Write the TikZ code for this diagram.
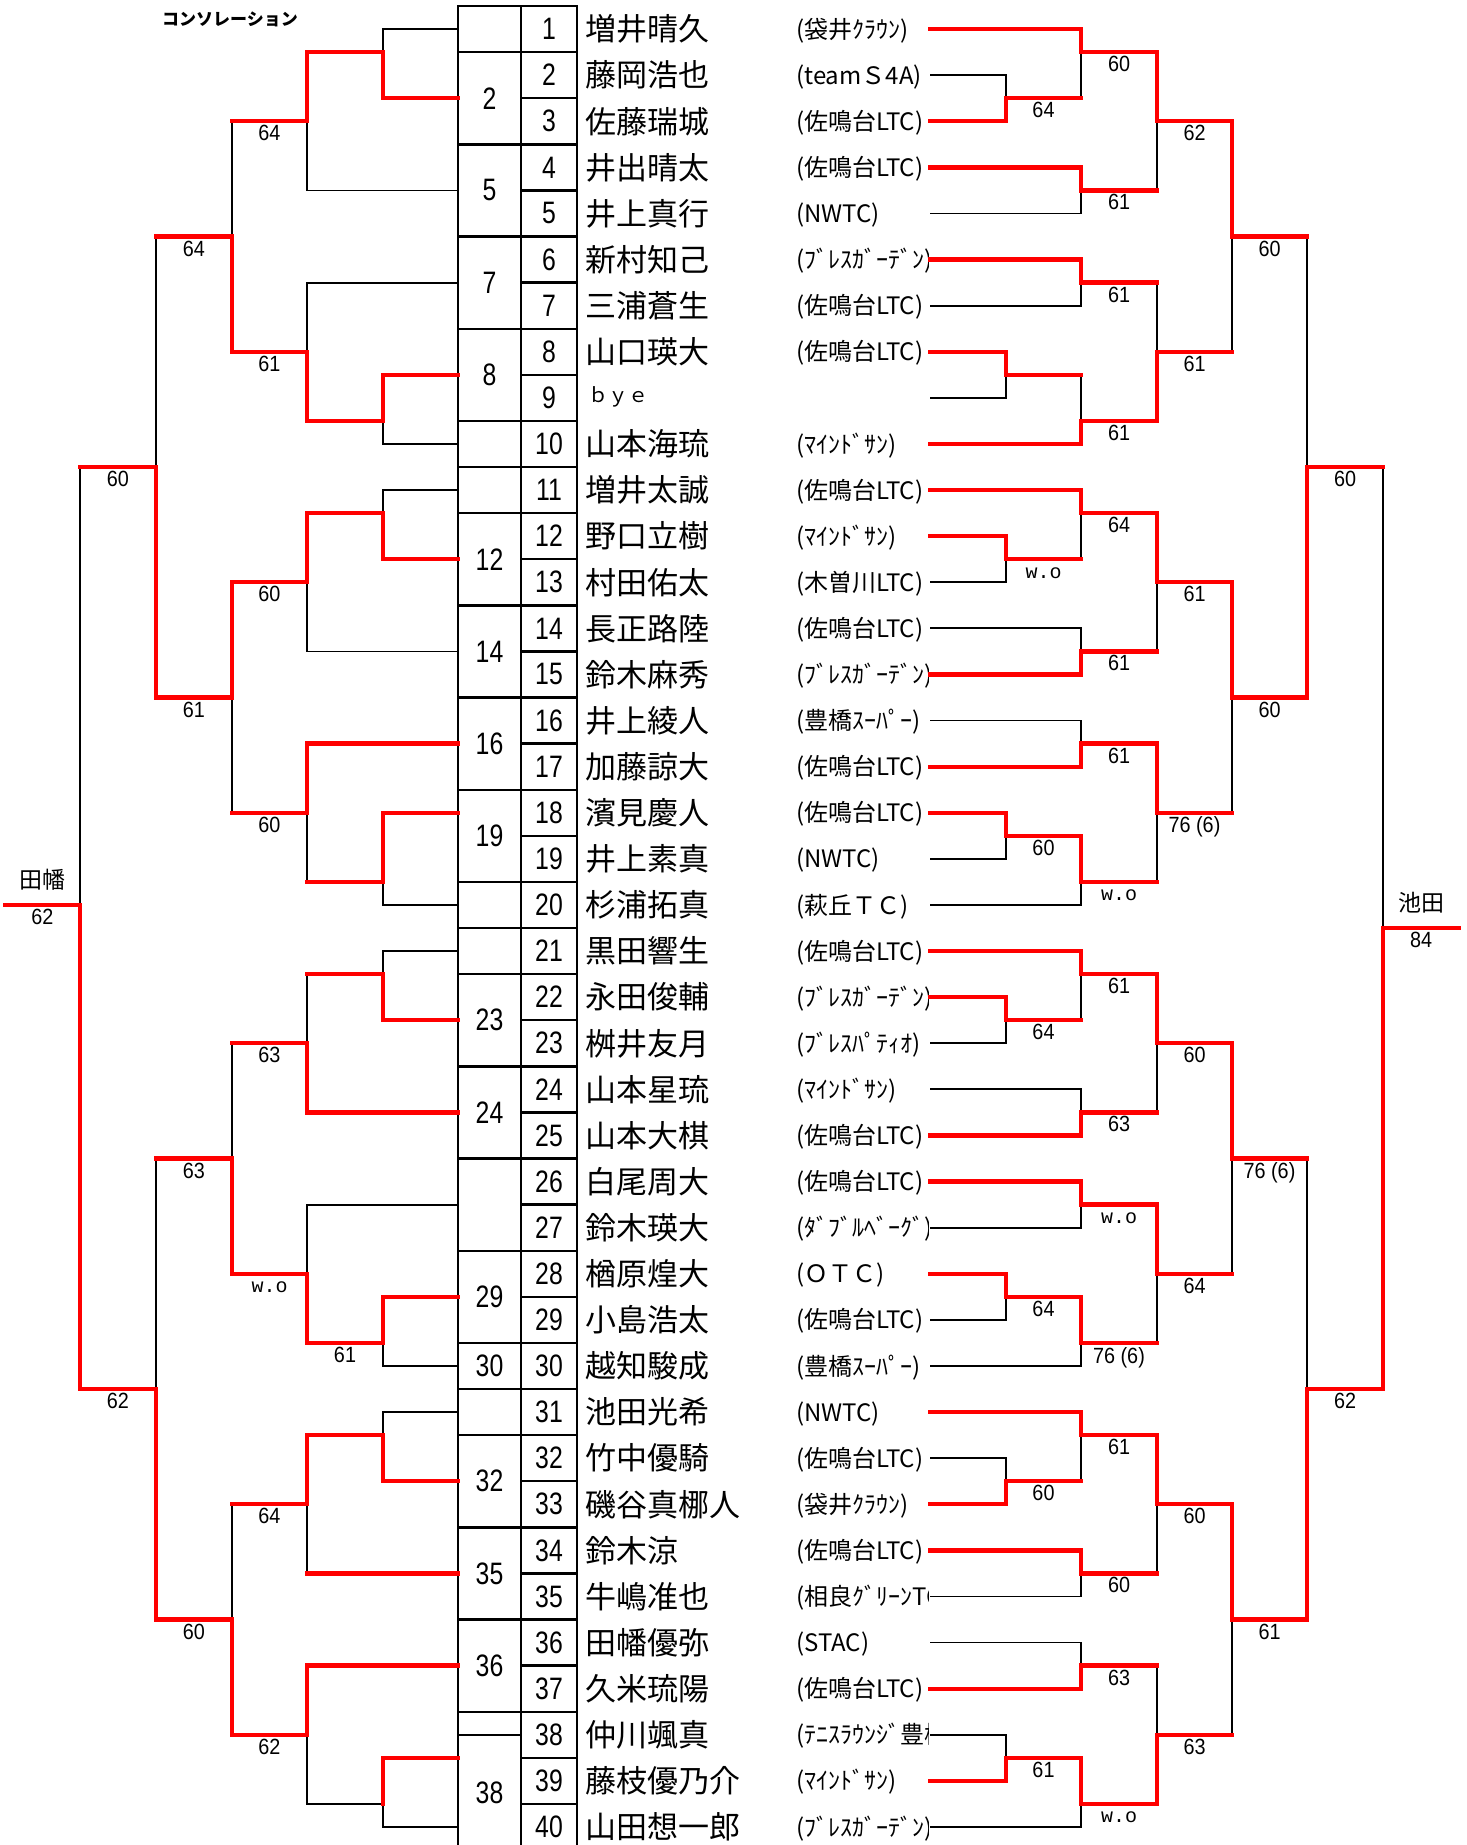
\documentclass[tikz,border=0pt]{standalone}
\usepackage{fontspec}
\setmainfont{Noto Sans CJK JP}
\newfontfamily\cjk{Noto Sans CJK JP}
\newfontfamily\numfont[FakeStretch=0.8]{Liberation Sans}
\newfontfamily\scfont[FakeStretch=0.9]{Liberation Sans}
\newfontfamily\wofont{Liberation Mono}
\begin{document}
\begin{tikzpicture}[x=1pt,y=1pt,
  bk/.style={line width=1.8pt, black, line join=miter},
  rd/.style={line width=4.3pt, red, line join=miter, line cap=rect},
  grid/.style={line width=2.4pt, black, line cap=rect},
  nm/.style={anchor=base west, inner sep=0pt, font=\cjk\fontsize{31}{31}\selectfont, yshift=-11.8pt},
  byefont/.style={anchor=base west, inner sep=0pt, font=\cjk\fontsize{20}{20}\selectfont, yshift=-5pt},
  club/.style={anchor=base west, inner sep=0pt, font=\cjk\fontsize{24}{24}\selectfont, yshift=-9.1pt},
  num/.style={anchor=center, inner sep=0pt, font=\numfont\fontsize{31}{31}\selectfont},
  sc/.style={anchor=north, inner sep=0pt, yshift=-4pt, font=\scfont\fontsize{22}{22}\selectfont},
  wo/.style={anchor=north, inner sep=0pt, yshift=-8pt, font=\wofont\fontsize{20}{20}\selectfont},
  fin/.style={anchor=base, inner sep=0pt, yshift=16.6pt, font=\cjk\fontsize{23}{23}\selectfont}
]
\useasboundingbox (0,0) rectangle (1467,-1845);
\clip (0,0) rectangle (1467,-1845);
\begin{scope}[shift={(0,-6)}, y=-46.1pt]
% title
\node[font=\cjk\bfseries\fontsize{17}{17}\selectfont, inner sep=0pt] (title) at (230,0.28) {コンソレーション};

% grid
\draw[grid] (458,0) -- (577,0);
\draw[grid] (458,0) -- (458,40.3);
\draw[grid] (521,0) -- (521,40.3);
\draw[grid] (577,0) -- (577,40.3);
\foreach \r in {1,...,39} \draw[grid] (521,\r) -- (577,\r);
\foreach \r in {1,3,5,7,9,10,11,13,15,17,19,20,21,23,25,27,29,30,31,33,35,37,37.5}
  \draw[grid] (458,\r) -- (521,\r);

% group labels
\foreach \r/\t [count=\k] in {2/2,4/5,6/7,8/8,12/12,14/14,16/16,18/19,22/23,24/24,28/29,29.5/30,32/32,34/35,36/36,38.75/38}
  \node[num] (g\k) at (489.5,\r) {\t};
% row numbers
\foreach \i in {1,...,40}
  \node[num] (k\i) at (549,\i-0.5) {\i};

% names
\foreach \i/\nm in {1/増井晴久,2/藤岡浩也,3/佐藤瑞城,4/井出晴太,5/井上真行,6/新村知己,7/三浦蒼生,8/山口瑛大,10/山本海琉,11/増井太誠,12/野口立樹,13/村田佑太,14/長正路陸,15/鈴木麻秀,16/井上綾人,17/加藤諒大,18/濱見慶人,19/井上素真,20/杉浦拓真,21/黒田響生,22/永田俊輔,23/桝井友月,24/山本星琉,25/山本大棋,26/白尾周大,27/鈴木瑛大,28/楢原煌大,29/小島浩太,30/越知駿成,31/池田光希,32/竹中優騎,33/磯谷真梛人,34/鈴木涼,35/牛嶋准也,36/田幡優弥,37/久米琉陽,38/仲川颯真,39/藤枝優乃介,40/山田想一郎}
  \node[nm] (n\i) at (585,\i-0.5) {\nm};
\node[byefont] (n9) at (588,8.5) {ｂｙｅ};

% clubs
\begin{scope}
\clip (790,0) rectangle (928,41);
\foreach \i/\cl in {1/{(袋井ｸﾗｳﾝ)},2/{(teamＳ4A)},3/{(佐鳴台LTC)},4/{(佐鳴台LTC)},5/{(NWTC)},6/{(ﾌﾞﾚｽｶﾞｰﾃﾞﾝ)},7/{(佐鳴台LTC)},8/{(佐鳴台LTC)},10/{(ﾏｲﾝﾄﾞｻﾝ)},11/{(佐鳴台LTC)},12/{(ﾏｲﾝﾄﾞｻﾝ)},13/{(木曽川LTC)},14/{(佐鳴台LTC)},15/{(ﾌﾞﾚｽｶﾞｰﾃﾞﾝ)},16/{(豊橋ｽｰﾊﾟｰ)},17/{(佐鳴台LTC)},18/{(佐鳴台LTC)},19/{(NWTC)},20/{(萩丘ＴＣ)},21/{(佐鳴台LTC)},22/{(ﾌﾞﾚｽｶﾞｰﾃﾞﾝ)},23/{(ﾌﾞﾚｽﾊﾟﾃｨｵ)},24/{(ﾏｲﾝﾄﾞｻﾝ)},25/{(佐鳴台LTC)},26/{(佐鳴台LTC)},27/{(ﾀﾞﾌﾞﾙﾍﾞｰｸﾞ)},28/{(ＯＴＣ)},29/{(佐鳴台LTC)},30/{(豊橋ｽｰﾊﾟｰ)},31/{(NWTC)},32/{(佐鳴台LTC)},33/{(袋井ｸﾗｳﾝ)},34/{(佐鳴台LTC)},35/{(相良ｸﾞﾘｰﾝTC)},36/{(STAC)},37/{(佐鳴台LTC)},38/{(ﾃﾆｽﾗｳﾝｼﾞ豊橋)},39/{(ﾏｲﾝﾄﾞｻﾝ)},40/{(ﾌﾞﾚｽｶﾞｰﾃﾞﾝ)}}
  \node[club] (c\i) at (796,\i-0.5) {\cl};
\end{scope}

% ---------- left bracket, black ----------
\draw[bk] (458,0.5) -| (383,1);
\draw[bk] (458,4) -| (307,2.5);
\draw[bk] (458,6) -| (307,7.5);
\draw[bk] (458,9.5) -| (383,9);
\draw[bk] (232,2.5) -- (232,5);
\draw[bk] (156,5) -- (156,10);
\draw[bk] (80,10) -- (80,19.5);
\draw[bk] (458,10.5) -| (383,11);
\draw[bk] (458,14) -| (307,12.5);
\draw[bk] (307,17.5) -- (307,19);
\draw[bk] (458,19.5) -| (383,19);
\draw[bk] (232,15) -- (232,17.5);
\draw[bk] (458,20.5) -| (383,21);
\draw[bk] (307,21) -- (307,22.5);
\draw[bk] (232,22.5) -- (232,25);
\draw[bk] (458,26) -| (307,27.5);
\draw[bk] (458,29.5) -| (383,29);
\draw[bk] (156,25) -- (156,30);
\draw[bk] (458,30.5) -| (383,31);
\draw[bk] (307,32.5) -- (307,34);
\draw[bk] (232,32.5) -- (232,35);
\draw[bk] (458,39.5) -| (383,39) -| (307,37.5);

% ---------- right bracket, black ----------
\draw[bk] (930,1.5) -| (1006,2);
\draw[bk] (1081,1) -- (1081,2);
\draw[bk] (930,4.5) -| (1081,4);
\draw[bk] (1157,2.5) -- (1157,4);
\draw[bk] (930,6.5) -| (1081,6);
\draw[bk] (1157,6) -- (1157,7.5);
\draw[bk] (930,8.5) -| (1006,8);
\draw[bk] (1081,8) -- (1081,9);
\draw[bk] (1232,5) -- (1232,7.5);
\draw[bk] (1307,5) -- (1307,10);
\draw[bk] (1081,11) -- (1081,12);
\draw[bk] (930,12.5) -| (1006,12);
\draw[bk] (930,13.5) -| (1081,14);
\draw[bk] (1157,12.5) -- (1157,14);
\draw[bk] (930,15.5) -| (1081,16);
\draw[bk] (930,18.5) -| (1006,18);
\draw[bk] (930,19.5) -| (1081,19);
\draw[bk] (1157,17.5) -- (1157,19);
\draw[bk] (1232,15) -- (1232,17.5);
\draw[bk] (1383,10) -- (1383,20);
\draw[bk] (1081,21) -- (1081,22);
\draw[bk] (930,22.5) -| (1006,22);
\draw[bk] (930,23.5) -| (1081,24);
\draw[bk] (1157,22.5) -- (1157,24);
\draw[bk] (1307,25) -- (1307,30);
\draw[bk] (930,26.5) -| (1081,26);
\draw[bk] (930,28.5) -| (1006,28);
\draw[bk] (930,29.5) -| (1081,29);
\draw[bk] (1157,27.5) -- (1157,29);
\draw[bk] (1232,25) -- (1232,27.5);
\draw[bk] (1081,31) -- (1081,32);
\draw[bk] (930,31.5) -| (1006,32);
\draw[bk] (930,34.5) -| (1081,34);
\draw[bk] (1157,32.5) -- (1157,34);
\draw[bk] (930,35.5) -| (1081,36);
\draw[bk] (1157,36) -- (1157,37.5);
\draw[bk] (930,37.5) -| (1006,38);
\draw[bk] (930,39.5) -| (1081,39);
\draw[bk] (1232,35) -- (1232,37.5);

% ---------- left bracket, red ----------
\draw[rd] (458,2) -| (383,1) -| (307,2.5) -- (232,2.5);
\draw[rd] (458,8) -| (383,9) -| (307,7.5) -| (232,5) -- (156,5);
\draw[rd] (458,12) -| (383,11) -| (307,12.5) -| (232,15) -| (156,10) -- (80,10);
\draw[rd] (458,16) -| (307,17.5) -- (232,17.5);
\draw[rd] (458,17.5) -| (383,19) -- (307,19);
\draw[rd] (458,22) -| (383,21) -- (307,21);
\draw[rd] (458,24) -| (307,22.5) -- (232,22.5);
\draw[rd] (458,28) -| (383,29) -| (307,27.5) -| (232,25) -- (156,25);
\draw[rd] (458,32) -| (383,31) -| (307,32.5) -- (232,32.5);
\draw[rd] (458,34) -- (307,34);
\draw[rd] (458,36) -| (307,37.5) -| (232,35) -| (156,30) -| (80,19.5) -- (5,19.5);
\draw[rd] (458,38) -| (383,39);

% ---------- right bracket, red ----------
\draw[rd] (930,0.5) -| (1081,1) -| (1157,2.5) -| (1232,5) -- (1307,5);
\draw[rd] (930,2.5) -| (1006,2) -- (1081,2);
\draw[rd] (930,3.5) -| (1081,4) -- (1157,4);
\draw[rd] (930,5.5) -| (1081,6) -- (1157,6);
\draw[rd] (930,7.5) -| (1006,8) -- (1081,8);
\draw[rd] (930,9.5) -| (1081,9) -| (1157,7.5) -- (1232,7.5);
\draw[rd] (930,10.5) -| (1081,11) -| (1157,12.5) -| (1232,15) -| (1307,10) -- (1383,10);
\draw[rd] (930,11.5) -| (1006,12) -- (1081,12);
\draw[rd] (930,14.5) -| (1081,14) -- (1157,14);
\draw[rd] (930,16.5) -| (1081,16) -| (1157,17.5) -- (1232,17.5);
\draw[rd] (930,17.5) -| (1006,18) -| (1081,19) -- (1157,19);
\draw[rd] (930,20.5) -| (1081,21) -| (1157,22.5) -| (1232,25) -- (1307,25);
\draw[rd] (930,21.5) -| (1006,22) -- (1081,22);
\draw[rd] (930,24.5) -| (1081,24) -- (1157,24);
\draw[rd] (930,25.5) -| (1081,26) -| (1157,27.5) -- (1232,27.5);
\draw[rd] (930,27.5) -| (1006,28) -| (1081,29) -- (1157,29);
\draw[rd] (930,30.5) -| (1081,31) -| (1157,32.5) -| (1232,35) -| (1307,30) -| (1383,20) -- (1459,20);
\draw[rd] (930,32.5) -| (1006,32) -- (1081,32);
\draw[rd] (930,33.5) -| (1081,34) -- (1157,34);
\draw[rd] (930,36.5) -| (1081,36) -- (1157,36);
\draw[rd] (930,38.5) -| (1006,38) -| (1081,39) -| (1157,37.5) -- (1232,37.5);

% ---------- scores ----------
\foreach \x/\r/\t [count=\k] in {269.5/2.5/64,269.5/7.5/61,194/5/64,118/10/60,269.5/12.5/60,269.5/17.5/60,194/15/61,269.5/22.5/63,194/25/63,345/29/61,118/30/62,269.5/32.5/64,194/35/60,269.5/37.5/62,42.5/19.5/62}
  \node[sc] (sl\k) at (\x,\r) {\t};
\node[wo] (wl1) at (269.5,27.5) {w.o};
\node[fin] (winl) at (42.5,19.5) {田幡};

\foreach \x/\r/\t [count=\k] in {1043.5/2/64,1043.5/18/60,1043.5/22/64,1043.5/28/64,1043.5/32/60,1043.5/38/61,
  1119/1/60,1119/4/61,1119/6/61,1119/9/61,1119/11/64,1119/14/61,1119/16/61,1119/21/61,1119/24/63,1119/29/{76 (6)},1119/31/61,1119/34/60,1119/36/63,
  1194.5/2.5/62,1194.5/7.5/61,1194.5/12.5/61,1194.5/17.5/{76 (6)},1194.5/22.5/60,1194.5/27.5/64,1194.5/32.5/60,1194.5/37.5/63,
  1269.5/5/60,1269.5/15/60,1269.5/25/{76 (6)},1269.5/35/61,
  1345/10/60,1345/30/62,1421/20/84}
  \node[sc] (sr\k) at (\x,\r) {\t};
\foreach \x/\r [count=\k] in {1043.5/12,1119/19,1119/26,1119/39}
  \node[wo] (wr\k) at (\x,\r) {w.o};
\node[fin] (winr) at (1421,20) {池田};
\end{scope}
\end{tikzpicture}
\end{document}
